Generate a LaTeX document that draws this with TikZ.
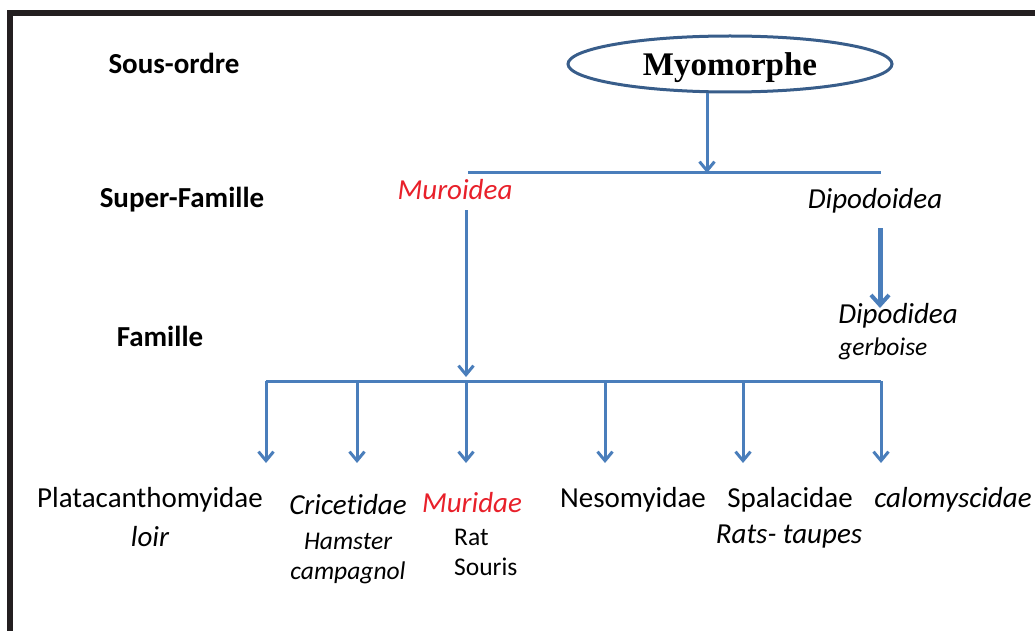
\documentclass[tikz,border=0pt]{standalone}
\usepackage{fontspec}
\setmainfont{Carlito}[Ligatures=NoCommon]
\newfontfamily\timesf{Liberation Serif}
\usetikzlibrary{arrows.meta,shapes.geometric}
\definecolor{lineblue}{HTML}{4A7EBB}
\definecolor{darkblue}{HTML}{385D8A}
\definecolor{myred}{HTML}{E8202A}
\definecolor{frame}{HTML}{231F20}
\tikzset{
  conn/.style={draw=lineblue, line width=3pt, -{Straight Barb[length=9pt,width=15pt,line width=3pt]}},
  bar/.style={draw=lineblue, line width=3pt},
  rank/.style={font=\fontsize{29}{32}\selectfont\bfseries, inner sep=0pt},
  main/.style={font=\fontsize{29}{32}\selectfont, inner sep=0pt},
  it/.style={font=\fontsize{29}{32}\selectfont\itshape, inner sep=0pt},
  sub/.style={font=\fontsize{25.5}{30}\selectfont\itshape, inner sep=0pt, align=center},
}
\begin{document}
\begin{tikzpicture}[x=1pt,y=-1pt]
\useasboundingbox (0,0) rectangle (1035,631);
\fill[frame] (7,10) rectangle (1035,16);
\fill[frame] (7,10) rectangle (13,631);

\node[rank] (so) at (174,63) {Sous-ordre};
\node[rank] (sf) at (182,200) {Super-Famille};
\node[rank] (fa) at (160,336) {Famille};

\node[ellipse, draw=darkblue, line width=3pt, minimum width=324pt, minimum height=56pt, inner sep=0pt,
      text depth=0pt, font=\timesf\fontsize{33}{36}\selectfont\bfseries] (myo) at (730,64) {Myomorphe};

\coordinate (t1) at (468,173);
\coordinate (t2) at (881,173);
\coordinate (tm) at (707,173);
\draw[bar] (t1) -- (t2);
\draw[conn] (myo.south -| tm) -- (tm);

\node[it, text=myred] (muro) at (455,190) {Muroidea};
\node[it] (dipo) at (875,201) {Dipodoidea};

\coordinate (b1) at (266,381);
\coordinate (b6) at (881,381);
\coordinate (bm) at (466,377);
\draw[bar] (b1) -- (b6);
\coordinate (ms) at (466,210);
\draw[conn] (ms) -- (bm);

\node[it] (dd) at (898,316) {Dipodidea};
\node[sub, anchor=west] (gb) at (839,349) {gerboise};
\coordinate (ds) at (880,228);
\coordinate (de) at (880,308);
\draw[draw=lineblue, line width=5pt, -{Straight Barb[length=10pt,width=18pt,line width=4pt]}] (ds) -- (de);

\foreach \i/\x in {1/266,2/357,3/466,4/605,5/743,6/881}{
  \coordinate (d\i) at (\x,381);
  \coordinate (e\i) at (\x,463);
  \draw[conn] (d\i) -- (e\i);
}

\node[main] (pla) at (150,500) {Platacanthomyidae};
\node[it] (loir) at (150,537) {loir};
\node[it] (cri) at (348,505) {Cricetidae};
\node[sub] (ham) at (348,558) {Hamster\\campagnol};
\node[it, text=myred] (mur) at (472,503) {Muridae};
\node[sub, font=\fontsize{25.5}{30}\selectfont, align=left, anchor=west] (rat) at (454,552) {Rat\\Souris};
\node[main] (neso) at (633,500) {Nesomyidae};
\node[main] (spa) at (790,500) {Spalacidae};
\node[it] (rt) at (789,537) {Rats- taupes};
\node[it] (calo) at (953,500) {calomyscidae};
\end{tikzpicture}
\end{document}
